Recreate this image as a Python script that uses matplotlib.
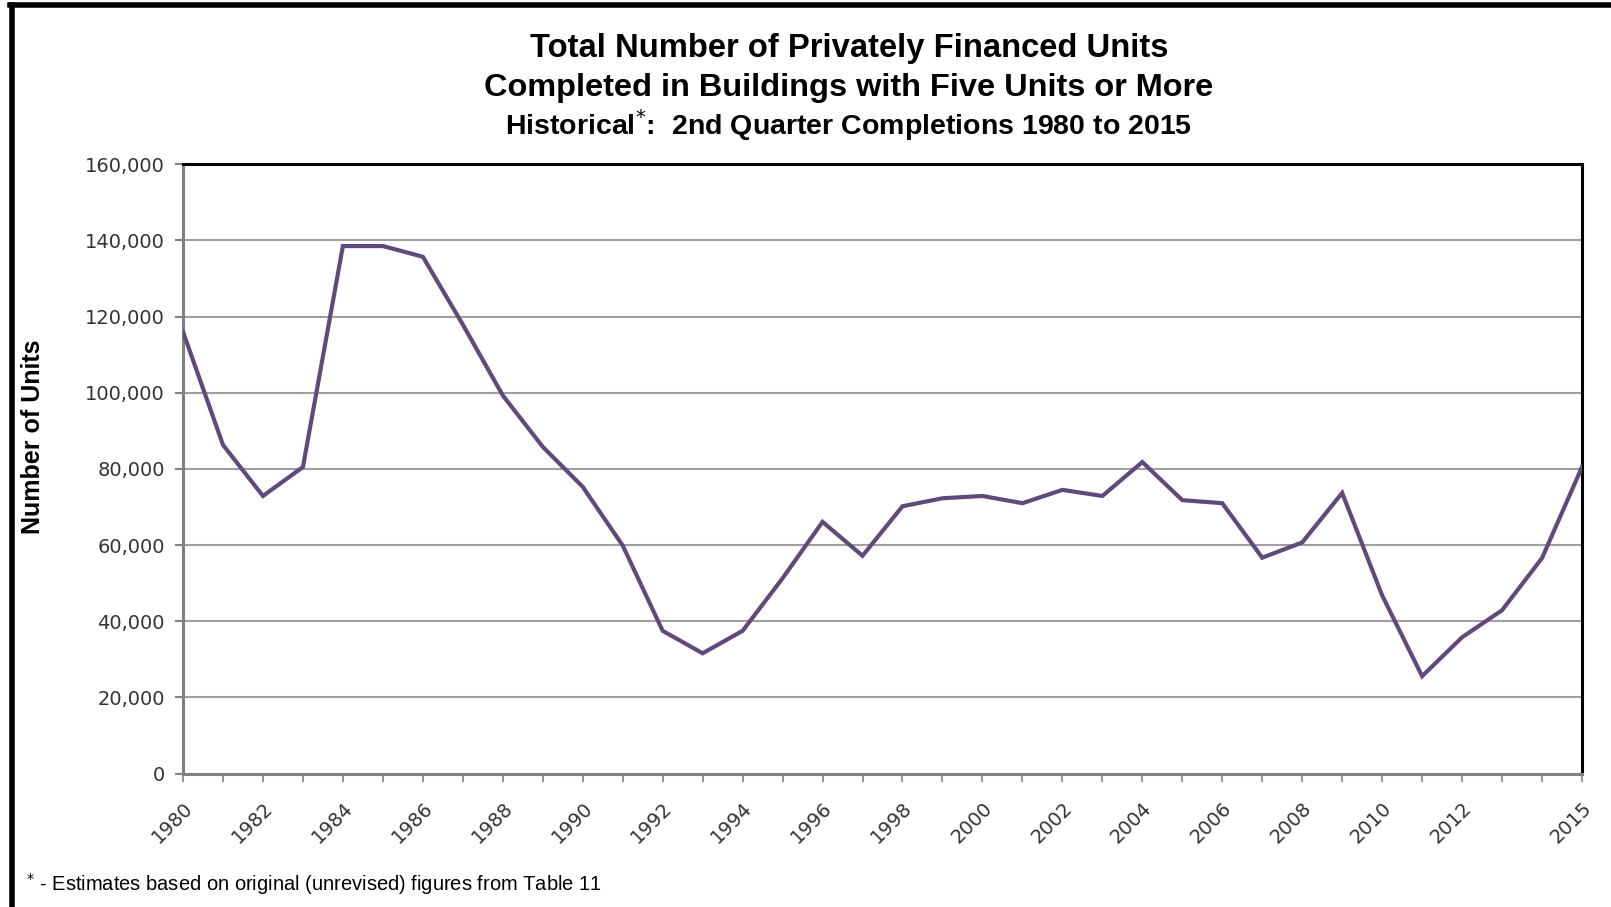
import matplotlib.pyplot as plt
from matplotlib.lines import Line2D
from matplotlib.ticker import FuncFormatter, MultipleLocator

years = list(range(1980, 2016))
units = [116000, 86300, 72900, 80500, 138500, 138500, 135700, 117900, 99300, 85800,
         75300, 59900, 37500, 31600, 37500, 51300, 66100, 57200, 70200, 72300,
         72900, 71000, 74500, 72900, 81800, 71800, 71000, 56700, 60700, 73700,
         46800, 25600, 35800, 42900, 56600, 80500]
tick_years = [1980, 1982, 1984, 1986, 1988, 1990, 1992, 1994, 1996, 1998, 2000,
              2002, 2004, 2006, 2008, 2010, 2012, 2015]

narrow = ['Liberation Sans Narrow', 'Liberation Sans', 'DejaVu Sans']

fig = plt.figure(figsize=(16.11, 9.07), dpi=100)
ax = fig.add_axes([0.1136, 0.147, 0.982 - 0.1136, 0.819 - 0.147])

ax.plot(years, units, color='#604A7B', linewidth=3.0, solid_joinstyle='miter', zorder=3)

ax.set_xlim(1980, 2015)
ax.set_ylim(0, 160000)
ax.yaxis.set_major_locator(MultipleLocator(20000))
ax.yaxis.set_major_formatter(FuncFormatter(lambda v, p: f"{int(v):,}"))
ax.set_xticks(years, minor=True)
ax.set_xticks(tick_years)
ax.set_xticklabels([str(y) for y in tick_years], rotation=45, ha='right',
                   rotation_mode='anchor', fontsize=14, color='#333333')
ax.tick_params(axis='y', labelsize=14, labelcolor='#333333', length=6, width=1.5,
               color='#808080', direction='out', pad=7)
ax.tick_params(axis='x', which='both', length=6, width=1.2, color='#808080', direction='out')
ax.tick_params(axis='x', which='major', pad=12)

ax.grid(axis='y', color='#a0a0a0', linewidth=1.5)
ax.set_axisbelow(True)
for s in ['top', 'right']:
    ax.spines[s].set_color('black')
    ax.spines[s].set_linewidth(2.2)
for s in ['left', 'bottom']:
    ax.spines[s].set_color('#808080')
    ax.spines[s].set_linewidth(2.2)

ax.set_ylabel("Number of Units", fontsize=18, fontweight='bold',
              family=['Liberation Sans', 'DejaVu Sans'])
ax.yaxis.set_label_coords(-0.099, 0.553)

fig.text(0.527, 0.946, "Total Number of Privately Financed Units", ha='center', va='center',
         fontsize=23.6, fontweight='bold', family=narrow)
fig.text(0.527, 0.903, "Completed in Buildings with Five Units or More", ha='center', va='center',
         fontsize=23.4, fontweight='bold', family=narrow)
fig.text(0.527, 0.862, r"Historical$^{*}$:  2nd Quarter Completions 1980 to 2015", ha='center',
         va='center', fontsize=20.5, fontweight='bold', family=narrow)
fig.text(0.016, 0.025, r"$^{*}$ - Estimates based on original (unrevised) figures from Table 11",
         ha='left', va='center', fontsize=14.5, family=narrow)

# frame remnants along the top and left edges
fig.add_artist(Line2D([0.006, 1.0], [0.994, 0.994], transform=fig.transFigure,
                      color='black', linewidth=4))
fig.add_artist(Line2D([0.0075, 0.0075], [0.0, 0.994], transform=fig.transFigure,
                      color='black', linewidth=4))

fig.savefig("out.png", dpi=100)
